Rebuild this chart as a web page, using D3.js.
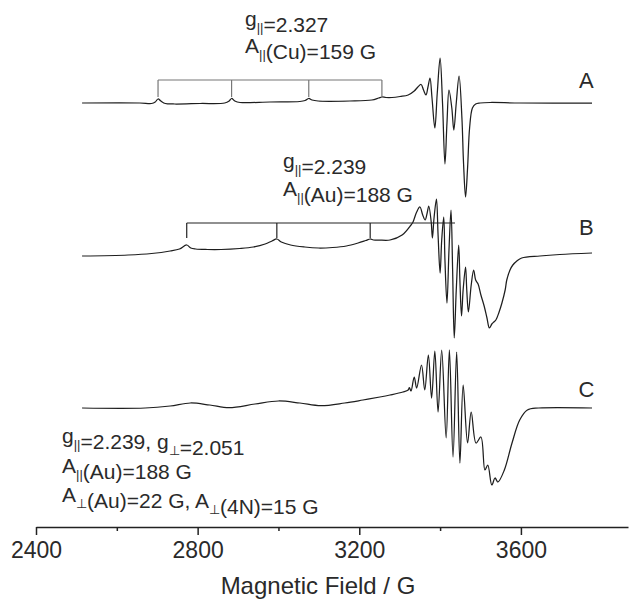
<!DOCTYPE html>
<html>
<head>
<meta charset="utf-8">
<script src="https://cdn.jsdelivr.net/npm/d3@7"></script>
<style>
body { margin: 0; background: #fff; }
text { font-family: "Liberation Sans", Arial, sans-serif; fill: #2a2a2a; }
</style>
</head>
<body>
<script>
// EPR spectra, [field (G), signal (a.u.)]
const specA = [
  [2514,0],[2657,0],[2686,-0.5],[2695,1],[2702,4],[2709,2],[2720,-0.5],[2743,-1],[2806,-0.5],
  [2867,0],[2878,2],[2884,4.5],[2892,2],[2905,0.5],[2979,1],[3053,1.5],[3066,2.5],[3075,4.5],[3083,3],[3098,2],
  [3177,2],[3231,3],[3248,5],[3256,6],[3266,5.5],[3281,5.5],[3301,6.5],[3321,8],[3336,12],[3345,16],[3353,18.5],
  [3359,13],[3365,8],[3370,16],[3375,25],[3380,5],[3387,-25],[3393,10],[3400,45],[3406,0],[3412,-61],[3417,-20],
  [3422,13],[3429,-5],[3434,-27],[3440,0],[3447,27],[3454,-15],[3458,-60],[3463,-94],[3468,-65],[3473,-25],
  [3480,-5],[3488,-1],[3499,0],[3524,0.5],[3597,0],[3776,0]
];
const specB = [
  [2514,-3],[2628,-2],[2686,-0.5],[2732,2],[2755,4],[2773,8],[2783,5],[2795,4],[2824,3.5],[2858,3.5],[2904,4.5],
  [2938,6],[2967,9],[2984,12],[2996,14],[3007,11],[3030,8],[3065,6],[3099,5],[3134,5.5],[3168,7],[3197,10],
  [3216,12.5],[3227,14],[3235,13],[3248,13],[3276,13],[3306,18],[3328,28],[3333,31],[3342,41],[3350,46],
  [3357,38],[3363,33],[3368,40],[3372,47],[3378,31],[3381,15],[3385,35],[3391,54],[3395,18],[3400,-20],
  [3404,13],[3409,36],[3412,-7],[3417,-50],[3422,3],[3427,43],[3431,-17],[3435,-85],[3440,-37],[3446,8],
  [3449,-27],[3453,-63],[3457,-37],[3463,-14],[3466,-37],[3470,-59],[3477,-32],[3483,-17],[3488,-27],
  [3494,-31],[3501,-42],[3509,-53],[3516,-65],[3522,-75],[3528,-71],[3533,-69],[3538,-67],[3546,-59],
  [3553,-50],[3561,-37],[3565,-27],[3573,-17],[3580,-12],[3590,-8],[3602,-5],[3647,-3],[3696,-1.5],[3776,0]
];
const specC = [
  [2514,0],[2670,0],[2732,2],[2782,5],[2830,3],[2878,0.3],[2942,4],[3000,7],[3053,5],[3105,2.3],[3164,5],
  [3209,8],[3251,11],[3276,13],[3308,16],[3321,18],[3324,20.5],[3328,17],[3336,31],[3342,20],[3354,43],
  [3362,18],[3371,53],[3379,10],[3387,57],[3395,-4],[3404,58],[3415,-30],[3423,58],[3432,-49],[3441,56],
  [3449,-55],[3457,23],[3468,-35],[3477,-4],[3489,-35],[3501,-29],[3511,-62],[3518,-57],[3528,-77],
  [3536,-70],[3543,-74],[3559,-62],[3578,-35],[3597,-12],[3616,-2],[3644,0],[3776,0]
];

// hyperfine brackets (G)
const bracketA = [2702, 2884, 3075, 3256];
const bracketB = [2773, 2996, 3227, 3437];

const majorTicks = [2400, 2800, 3200, 3600];
const minorTicks = [2600, 3000, 3400];

const svg = d3.select('body').append('svg')
    .attr('width', 630)
    .attr('height', 600);

const x = d3.scaleLinear().domain([2400, 3865]).range([36, 628]);
const y = d3.scaleLinear().domain([0, 527]).range([527, 0]);

// vertical stacking of the three traces
const traces = [
  { name: 'A', data: specA, off: 424, lab: 15 },
  { name: 'B', data: specB, off: 274, lab: 18 },
  { name: 'C', data: specC, off: 119, lab: 11 }
];

traces.forEach(t => {
  const line = d3.line()
      .x(d => x(d[0]))
      .y(d => y(d[1] + t.off))
      .curve(d3.curveCatmullRom.alpha(0.5));
  svg.append('path')
      .datum(t.data)
      .attr('d', line)
      .attr('fill', 'none')
      .attr('stroke', '#1e1e1e')
      .attr('stroke-width', 1.25);
  svg.append('text')
      .attr('x', x(3762))
      .attr('y', y(t.off + t.lab))
      .attr('text-anchor', 'middle')
      .style('font-size', '22px')
      .text(t.name);
});

// brackets
function bracket(pos, lineY, tickLen, color, tickAll) {
  const g = svg.append('g').attr('stroke', color).attr('stroke-width', 1.2).attr('fill', 'none');
  g.append('line')
      .attr('x1', x(pos[0])).attr('x2', x(pos[pos.length - 1]))
      .attr('y1', lineY).attr('y2', lineY);
  g.selectAll('line.t')
      .data(tickAll ? pos : pos.slice(0, -1))
      .enter().append('line')
      .attr('class', 't')
      .attr('x1', d => x(d)).attr('x2', d => x(d))
      .attr('y1', lineY).attr('y2', lineY + tickLen);
}
bracket(bracketA, y(424 + 23), 17, '#777', true);
bracket(bracketB, y(274 + 30), 15, '#222', false);

// annotation text with subscripts
function label(xp, yp, parts) {
  const t = svg.append('text').attr('x', xp).attr('y', yp).style('font-size', '21px');
  parts.forEach(p => {
    if (typeof p === 'string') {
      t.append('tspan').text(p);
    } else {
      t.append('tspan').attr('dy', 6).style('font-size', '13px').text(p.sub);
      t.append('tspan').attr('dy', -6).text('');
    }
  });
}
const par = { sub: '||' }, perp = { sub: '\u22A5' };

label(245, 26, ['g', par, '=2.327']);
label(245, 53, ['A', par, '(Cu)=159 G']);
label(283, 168, ['g', par, '=2.239']);
label(283, 196, ['A', par, '(Au)=188 G']);
label(62, 443, ['g', par, '=2.239, g', perp, '=2.051']);
label(62, 473, ['A', par, '(Au)=188 G']);
label(62, 502, ['A', perp, '(Au)=22 G, A', perp, '(4N)=15 G']);

// x axis
const axisG = svg.append('g')
    .attr('transform', 'translate(0,527)')
    .call(d3.axisBottom(x).tickValues(majorTicks).tickSize(8).tickSizeOuter(0)
      .tickPadding(7).tickFormat(d3.format('d')));
axisG.select('.domain').attr('stroke', '#222').attr('stroke-width', 1.6);
axisG.selectAll('.tick line').attr('stroke', '#222').attr('stroke-width', 1.5);
axisG.selectAll('.tick text').style('font-size', '23px')
    .style('font-family', '"Liberation Sans", Arial, sans-serif').attr('fill', '#2a2a2a');

const minorG = svg.append('g')
    .attr('transform', 'translate(0,527)')
    .call(d3.axisBottom(x).tickValues(minorTicks).tickSize(4).tickFormat(''));
minorG.select('.domain').remove();
minorG.selectAll('.tick line').attr('stroke', '#222').attr('stroke-width', 1.5);

svg.append('text')
    .attr('x', 318)
    .attr('y', 594)
    .attr('text-anchor', 'middle')
    .style('font-size', '24px')
    .text('Magnetic Field / G');
</script>
</body>
</html>
